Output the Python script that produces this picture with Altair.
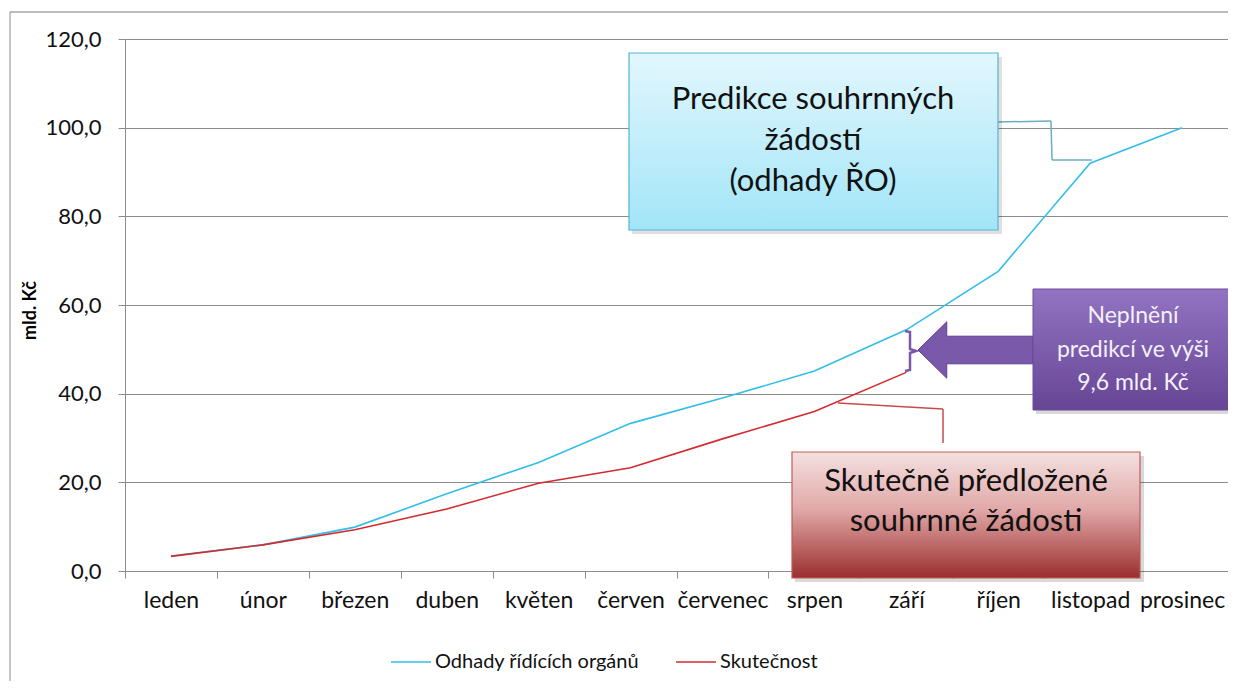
import altair as alt
import pandas as pd

# ---------------- data ----------------
months = ["leden", "únor", "březen", "duben", "květen", "červen",
          "červenec", "srpen", "září", "říjen", "listopad", "prosinec"]
odhady = [3.4, 5.9, 9.9, 17.4, 24.5, 33.3, 39.0, 45.1, 54.4, 67.6, 92.0, 100.0]
skutecnost = [3.3, 5.9, 9.3, 14.0, 19.8, 23.3, 29.8, 36.0, 44.8]
series_names = ["Odhady řídících orgánů", "Skutečnost"]
series_colors = ["#33bdea", "#d42a2f"]
y_ticks = [0, 20, 40, 60, 80, 100, 120]

box_blue_text = ["Predikce souhrnných", "žádostí", "(odhady ŘO)"]
box_purple_text = ["Neplnění", "predikcí ve výši", "9,6 mld. Kč"]
box_red_text = ["Skutečně předložené", "souhrnné žádosti"]

rows = [{"mesic": m, "hodnota": v, "rada": series_names[0]} for m, v in zip(months, odhady)]
rows += [{"mesic": m, "hodnota": v, "rada": series_names[1]} for m, v in zip(months, skutecnost)]
df = pd.DataFrame(rows)

# ---------------- layout helpers ----------------
W, H = 1103, 532
OX, OY = 125, 39          # page position of the plot origin
FONT = "Lato"
GRID = "#8c8c8c"


def px(x):
    return x - OX


def py(y):
    return y - OY


one = alt.Chart(pd.DataFrame({"k": [0]}))


def rect(x1, y1, x2, y2, **kw):
    return one.mark_rect(**kw).encode(
        x=alt.value(px(x1)), x2=alt.value(px(x2)),
        y=alt.value(py(y1)), y2=alt.value(py(y2)))


def seg(x1, y1, x2, y2, color, w=1.5):
    return one.mark_rule(color=color, strokeWidth=w).encode(
        x=alt.value(px(x1)), x2=alt.value(px(x2)),
        y=alt.value(py(y1)), y2=alt.value(py(y2)))


def label(lines, x, y_first, size, color, lh):
    return one.mark_text(text=lines, font=FONT, fontSize=size, color=color,
                         align="center", baseline="middle", lineHeight=lh).encode(
        x=alt.value(px(x)), y=alt.value(py(y_first)))


def grad(stops):
    return alt.Gradient(gradient="linear", x1=0, x2=0, y1=0, y2=1,
                        stops=[alt.GradientStop(color=c, offset=o) for o, c in stops])


# ---------------- main chart ----------------
lines = alt.Chart(df).mark_line(strokeWidth=1.6).encode(
    x=alt.X("mesic:N", sort=months,
            scale=alt.Scale(type="band", domain=months, paddingInner=0, paddingOuter=0),
            axis=alt.Axis(title=None, tickBand="extent", labelAngle=0, grid=False,
                          domainColor=GRID, tickColor=GRID, tickSize=7,
                          labelFont=FONT, labelFontSize=23, labelColor="#111111",
                          labelPadding=11)),
    y=alt.Y("hodnota:Q", scale=alt.Scale(domain=[0, 120]),
            axis=alt.Axis(values=y_ticks,
                          labelExpr="replace(format(datum.value, '.1f'), '.', ',')",
                          grid=True, gridColor=GRID, gridWidth=1,
                          domainColor=GRID, tickColor=GRID, tickSize=7,
                          labelFont=FONT, labelFontSize=22, labelColor="#111111",
                          labelPadding=17,
                          title="mld. Kč", titleFont=FONT, titleFontSize=18,
                          titleFontWeight="bold", titleColor="#000000",
                          titleAngle=270, titleX=-95, titleY=271,
                          titleAlign="center", titleBaseline="middle")),
    color=alt.Color("rada:N", scale=alt.Scale(domain=series_names, range=series_colors),
                    legend=alt.Legend(title=None, orient="none", legendX=265, legendY=602,
                                      direction="horizontal", symbolType="stroke",
                                      symbolSize=1600, symbolStrokeWidth=1.6,
                                      labelFont=FONT, labelFontSize=20, labelColor="#111111",
                                      labelLimit=400, labelOffset=3, columnPadding=32,
                                      padding=0)),
)

# ---------------- annotations ----------------
frame = (seg(10, 12, 1300, 12, "#a6a6a6", 1.3) + seg(10, 12, 10, 900, "#a6a6a6", 1.3))

blue_shadow = rect(632, 57, 1002, 234, fill="#000000", opacity=0.12)
blue_box = rect(629, 53, 998, 230,
                fill=grad([(0, "#e2f7fd"), (1, "#a2e5f8")]),
                stroke="#55b4cf", strokeWidth=1.2)
blue_conn = (seg(998, 122, 1051, 121, "#6aaec0") + seg(1051, 121, 1052, 160, "#6aaec0")
             + seg(1052, 160, 1092, 160, "#6aaec0"))
blue_txt = label(box_blue_text, 813, 100, 31, "#111111", 41)

red_conn = seg(838, 403, 943, 409, "#c84b4b") + seg(943, 409, 943, 443, "#c84b4b")
red_shadow = rect(795, 456, 1144, 582, fill="#000000", opacity=0.15)
red_box = rect(792, 452, 1140, 578,
               fill=grad([(0, "#f4e0e0"), (0.45, "#e2a9a9"), (1, "#9a2e2e")]),
               stroke="#c25a5a", strokeWidth=1.2)
red_txt = label(box_red_text, 966, 482, 31, "#111111", 40)

bracket = one.mark_point(
    shape="M -0.25 -1 L 0 -0.95 L 0 -0.1 L 0.3 0 L 0 0.1 L 0 0.95 L -0.25 1",
    size=1600, filled=False, stroke="#7a58a8", strokeWidth=2.5, opacity=1).encode(
    x=alt.value(px(910)), y=alt.value(py(351)))
arrow = one.mark_point(
    shape="M -1 0 L -0.5 -0.49 L -0.5 -0.24 L 1 -0.24 L 1 0.24 L -0.5 0.24 L -0.5 0.49 Z",
    size=13225, filled=True, fill="#7a58aa", stroke="#5f3f8c", strokeWidth=1, opacity=1).encode(
    x=alt.value(px(975.5)), y=alt.value(py(350)))
purple_shadow = rect(1036, 293, 1236, 414, fill="#000000", opacity=0.15)
purple_box = rect(1033, 289, 1232, 410,
                  fill=grad([(0, "#9274c2"), (1, "#664595")]),
                  stroke="#6d4d9c", strokeWidth=1)
purple_txt = label(box_purple_text, 1133, 316, 23, "#f4f0f8", 33.7)

chart = alt.layer(
    frame, lines,
    blue_conn, red_conn,
    blue_shadow, blue_box, blue_txt,
    red_shadow, red_box, red_txt,
    bracket, arrow, purple_shadow, purple_box, purple_txt,
).properties(
    width=W, height=H,
    autosize=alt.AutoSizeParams(type="none"),
    padding={"left": 117, "top": 31, "right": 0, "bottom": 110},
).configure_view(stroke=None)

chart.save("out.html", embed_options={"renderer": "svg", "actions": False})
